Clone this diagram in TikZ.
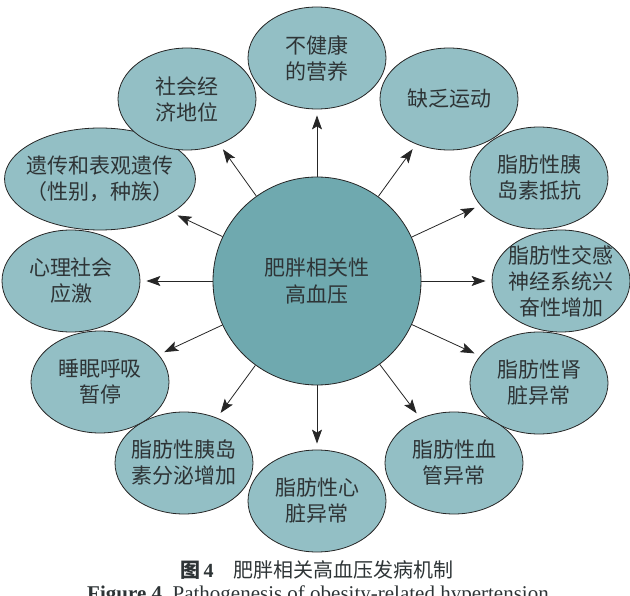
\documentclass[tikz,border=0pt]{standalone}
\usepackage{fontspec}
\setmainfont{Liberation Serif}
\newfontfamily\cjk{Noto Sans CJK SC}
\usepackage{xcolor}
\definecolor{causeteal}{HTML}{93BFC5}
\definecolor{hubteal}{HTML}{6FA9AF}
\definecolor{inkgray}{HTML}{2E3436}
\usepackage{tikz}
\usetikzlibrary{arrows.meta, shapes.geometric}

\begin{document}
\begin{tikzpicture}[
    x=1pt, y=-1pt,
    cause/.style={ellipse, draw=black!85, fill=causeteal, line width=0.8pt, minimum width=138pt, minimum height=102pt, inner xsep=-6pt, inner ysep=-4pt, align=center, text=inkgray, font=\cjk\fontsize{21}{26}\selectfont},
    hub/.style={circle, draw=black!85, fill=hubteal, line width=0.8pt, minimum size=208pt, align=center, text=inkgray, font=\cjk\fontsize{21}{27}\selectfont},
    arrow/.style={-{Stealth[length=14pt, width=10pt, inset=3pt]}, line width=0.8pt, color=black!85, shorten >=6pt},
]
    \useasboundingbox (0,0) rectangle (630,596);
    \clip (0,0) rectangle (630,596);

    \node[hub] (hub) at (317,281) {肥胖相关性\\高血压};

    \node[cause] (nutrition) at (317,58) {不健康\\的营养};
    \node[cause] (exercise) at (449,99) {缺乏运动};
    \node[cause] (resist) at (539,178) {脂肪性胰\\岛素抵抗};
    \node[cause] (sympa) at (561,281) {脂肪性交感\\神经系统兴\\奋性增加};
    \node[cause] (kidney) at (539,383) {脂肪性肾\\脏异常};
    \node[cause] (vessel) at (454,463) {脂肪性血\\管异常};
    \node[cause] (heart) at (317,501) {脂肪性心\\脏异常};
    \node[cause] (secrete) at (184,463) {脂肪性胰岛\\素分泌增加};
    \node[cause] (apnea) at (100,382) {睡眠呼吸\\暂停};
    \node[cause] (stress) at (71,281) {心理社会\\应激};
    \node[cause] (genetic) at (100,179) {遗传和表观遗传\\（性别，种族）};
    \node[cause] (social) at (187,99) {社会经\\济地位};

    \draw[arrow] (hub) -- (nutrition);
    \draw[arrow] (hub) -- (exercise);
    \draw[arrow] (hub) -- (resist);
    \draw[arrow] (hub) -- (sympa);
    \draw[arrow] (hub) -- (kidney);
    \draw[arrow] (hub) -- (vessel);
    \draw[arrow] (hub) -- (heart);
    \draw[arrow] (hub) -- (secrete);
    \draw[arrow] (hub) -- (apnea);
    \draw[arrow] (hub) -- (stress);
    \draw[arrow] (hub) -- (genetic);
    \draw[arrow] (hub) -- (social);

    % figure caption
    \node[font=\cjk\fontsize{20}{24}\selectfont, text=inkgray] (capzh) at (317,570) {{\bfseries 图\,{\rmfamily 4}}\quad 肥胖相关高血压发病机制};
    \node[font=\fontsize{21}{24}\selectfont, text=inkgray, anchor=base] (capen) at (318,600) {\textbf{Figure 4}\enspace Pathogenesis of obesity-related hypertension};
\end{tikzpicture}
\end{document}
